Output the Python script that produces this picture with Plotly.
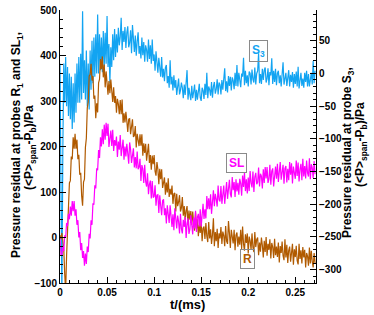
import numpy as np
import plotly.graph_objects as go

# sampling step of the signals (ms)
dt = 0.001

# Pressure residual at probe R1 (left axis, Pa), one value per 0.001 ms
R_vals = [5, -4, 10, -18, -25, -80, -118, -40, 12, 72,
          120, 125, 178, 172, 220, 195, 228, 195, 215, 172,
          182, 138, 142, 92, 70, 122, 128, 198, 218, 285,
          298, 355, 358, 382, 345, 355, 305, 312, 262, 295,
          275, 340, 348, 392, 370, 398, 352, 380, 330, 365,
          346, 314, 344, 317, 347, 314, 298, 330, 296, 311,
          274, 305, 293, 271, 302, 271, 303, 252, 273, 253,
          276, 256, 232, 260, 261, 227, 246, 260, 221, 224,
          245, 198, 228, 217, 201, 227, 202, 227, 180, 207,
          186, 206, 169, 187, 206, 164, 181, 149, 180, 161,
          181, 146, 136, 166, 150, 117, 151, 128, 150, 109,
          124, 132, 94, 121, 99, 130, 89, 107, 94, 114,
          74, 96, 98, 57, 96, 69, 78, 93, 57, 65,
          89, 48, 69, 38, 59, 69, 27, 59, 39, 58,
          28, 57, 32, 15, 55, 19, 40, 3, 28, 10,
          36, -8, 20, 24, -3, 32, 3, -10, 34, -2,
          18, -14, 6, 42, -19, 12, -8, 19, -23, 9,
          -2, 23, -14, 13, 4, -19, 25, -8, -14, 36,
          10, -23, 17, -6, -13, 17, -28, 5, 11, -20,
          2, -16, 17, -25, 24, -14, -29, 7, -12, 9,
          -35, 2, -7, -27, 9, -22, -32, 12, -21, -4,
          0, -39, -11, -31, 0, -17, -44, -7, -32, 1,
          -40, -14, -27, -4, -46, -12, -21, -45, -3, -39,
          -20, -43, -11, -55, -19, -34, -9, -40, -50, -4,
          -44, -16, -56, -28, -20, -53, -32, -14, -60, -26,
          -43, -18, -51, -59, -14, -47, -28, -57, -21, -44,
          -27, -66, -34, -41, -62, -22, -57, -29, -53, -66,
          -34, -56]

# Pressure residual at probe SL1 (left axis, Pa)
SL_vals = [-2, -38, -40, -20, -30, 5, 0, 32, 25, 52,
           40, 68, 48, 80, 58, 80, 48, 62, 28, 38,
           0, 12, -28, -12, -45, -30, -62, -35, -58, -20,
           -32, 8, -2, 38, 28, 75, 72, 115, 108, 152,
           148, 192, 175, 220, 200, 238, 205, 248, 215, 252,
           223, 250, 199, 225, 235, 201, 237, 190, 214, 202,
           222, 177, 211, 193, 225, 179, 197, 215, 171, 200,
           178, 206, 185, 162, 209, 194, 164, 186, 196, 154,
           177, 152, 189, 150, 155, 173, 124, 159, 151, 120,
           160, 123, 112, 141, 95, 117, 125, 86, 124, 88,
           90, 115, 70, 93, 94, 54, 93, 70, 49, 81,
           84, 49, 64, 31, 71, 51, 32, 71, 36, 23,
           51, 16, 64, 30, 20, 48, 35, 9, 52, 19,
           9, 39, 23, 45, -1, 31, 42, 8, 18, 49,
           29, 7, 44, 20, 59, 12, 45, 52, 24, 62,
           24, 60, 74, 41, 62, 42, 91, 62, 86, 62,
           95, 52, 86, 104, 69, 96, 84, 68, 114, 83,
           79, 113, 74, 101, 114, 74, 110, 122, 85, 105,
           127, 96, 88, 133, 104, 122, 89, 128, 101, 120,
           94, 129, 119, 92, 136, 111, 143, 102, 128, 97,
           132, 102, 146, 120, 110, 145, 100, 133, 142, 117,
           121, 154, 112, 140, 135, 108, 150, 120, 155, 130,
           155, 120, 128, 160, 116, 146, 152, 112, 142, 156,
           129, 162, 122, 147, 166, 127, 139, 160, 118, 152,
           157, 121, 151, 126, 166, 138, 163, 119, 156, 142,
           129, 169, 135, 165, 123, 150, 162, 126, 173, 134,
           157, 130, 169, 142, 134, 174, 128, 161, 153, 131,
           168, 139]

# Pressure residual at probe S3 (right axis, Pa)
S3_vals = [15, -200, -345, -120, 15, -45, 25, -50, 10, -65,
           0, -70, -5, -85, -15, -75, 0, -60, 15, -45,
           25, -45, 30, -40, 95, -30, 20, -40, 35, -50,
           15, -55, 35, -25, 50, -15, 55, -5, 60, 0,
           90, 0, 60, 5, 55, 2, 65, 10, 62, 15,
           88, 10, 45, -15, 40, 10, 60, 20, 68, 25,
           60, 32, 70, 43, 56, 85, 36, 65, 48, 71,
           39, 62, 72, 40, 47, 66, 31, 74, 50, 33,
           58, 27, 49, 63, 30, 42, 23, 55, 28, 48,
           18, 43, 36, 18, 52, 22, 43, 15, 52, 19,
           29, 4, 34, 8, 1, 24, 11, -5, 25, -6,
           7, -12, 9, 13, -15, -4, -22, 20, -17, -5,
           -26, -3, -22, -10, -33, -15, -8, -32, -26, -14,
           -22, -38, -17, -33, -16, 5, -40, -22, -32, -41,
           -19, -38, -28, -17, -42, -25, -40, -21, -16, -37,
           -42, -22, -26, -39, -16, -33, 1, -38, -20, -25,
           -34, -13, -37, -20, -13, -31, -24, -9, -32, -14,
           -17, -32, -10, -25, -7, 8, -27, -12, -29, -4,
           -19, -5, -26, -6, -11, -24, 1, -19, 13, -20,
           1, -15, -21, 0, -5, 24, -18, 4, -15, -3,
           -20, 3, 0, -17, 6, -9, -14, 9, -17, 0,
           4, 31, -15, -1, -16, 7, -10, 5, 9, -14,
           -8, 8, -18, 2, -3, 23, -16, 4, -13, 7,
           -18, 0, 4, -15, -3, -20, 5, 17, -17, -2,
           1, -19, -5, 5, -20, -2, -13, 2, -22, -1,
           -16, 3, -20, 10, -23, -5, 1, -19, -8, -22,
           1, -13, 4, -20, -1, -20, -5, 1, -17, 19,
           -15, 4]

x_tickvals = [0, 0.05, 0.1, 0.15, 0.2, 0.25]
x_ticktext = ["0", "0.05", "0.1", "0.15", "0.2", "0.25"]
left_tickvals = [-100, 0, 100, 200, 300, 400, 500]
right_tickvals = [-300, -250, -200, -150, -100, -50, 0, 50]

t = np.round(np.arange(len(R_vals)) * dt, 4)

C_S3 = "#12A4F2"
C_SL = "#FF00FF"
C_R = "#B05A00"

fig = go.Figure()
fig.add_trace(go.Scatter(x=t, y=S3_vals, mode="lines", line=dict(color=C_S3, width=1.2),
                         yaxis="y", name="S3"))
fig.add_trace(go.Scatter(x=t, y=R_vals, mode="lines", line=dict(color=C_R, width=1.2),
                         yaxis="y2", name="R"))
fig.add_trace(go.Scatter(x=t, y=SL_vals, mode="lines", line=dict(color=C_SL, width=1.2),
                         yaxis="y2", name="SL"))

tickfont = dict(family="Liberation Sans, Arial", size=10, color="black", weight="bold")
titlefont = dict(family="Liberation Sans, Arial", size=12, color="black", weight="bold")

fig.update_layout(
    width=374, height=315,
    margin=dict(l=60, r=58, t=10, b=32),
    plot_bgcolor="white", paper_bgcolor="white",
    showlegend=False,
    xaxis=dict(range=[0, 0.272], tickvals=x_tickvals, ticktext=x_ticktext,
               ticks="inside", ticklen=6, tickwidth=1, tickcolor="black",
               minor=dict(ticks="inside", ticklen=3, dtick=0.01, tick0=0, tickcolor="black"),
               showline=True, linecolor="black", linewidth=1, automargin=False,
               showgrid=False, zeroline=False, tickfont=tickfont),
    yaxis=dict(side="right", range=[-320.5, 97], tickvals=right_tickvals,
               ticks="inside", ticklen=6, tickwidth=1, tickcolor="black",
               minor=dict(ticks="inside", ticklen=3, dtick=10, tick0=0, tickcolor="black"),
               showline=True, linecolor="black", linewidth=1, automargin=False,
               showgrid=False, zeroline=False, tickfont=tickfont),
    yaxis2=dict(side="left", overlaying="y", range=[-100, 500], tickvals=left_tickvals,
                ticks="inside", ticklen=6, tickwidth=1, tickcolor="black",
                minor=dict(ticks="inside", ticklen=3, dtick=20, tick0=0, tickcolor="black"),
                showline=True, linecolor="black", linewidth=1, automargin=False,
                showgrid=False, zeroline=False, tickfont=tickfont),
)

def ann(text, x, y, **kw):
    d = dict(text=text, x=x, y=y, showarrow=False, font=titlefont,
             xanchor="center", yanchor="middle")
    d.update(kw)
    fig.add_annotation(**d)

# axis titles
ann("Pressure residual at probes R<sub>1</sub> and SL<sub>1</sub>,", (17 - 60) / 256, (283 - 145) / 273,
    xref="paper", yref="paper", textangle=-90)
ann("(&lt;P&gt;<sub>span</sub>-P<sub>b</sub>)/Pa", (30 - 60) / 256, (283 - 148) / 273,
    xref="paper", yref="paper", textangle=-90)
ann("Pressure residual at probe S<sub>3</sub>,", (348 - 60) / 256, (283 - 153) / 273,
    xref="paper", yref="paper", textangle=-90)
ann("(&lt;P&gt;<sub>span</sub>-P<sub>b</sub>)/Pa", (361 - 60) / 256, (283 - 145) / 273,
    xref="paper", yref="paper", textangle=-90)
ann("t/(ms)", (187 - 60) / 256, (283 - 304) / 273, xref="paper", yref="paper",
    font=dict(family="Liberation Sans, Arial", size=13, color="black", weight="bold"))

# series labels
lab = dict(family="Liberation Sans, Arial", size=12, weight="bold")
ann("S<sub>3</sub>", 0.2106, 34, xref="x", yref="y", font=dict(lab, color=C_S3),
    bordercolor="#8a8a8a", borderwidth=1, borderpad=2)
ann("SL", 0.187, 163, xref="x", yref="y2", font=dict(lab, color=C_SL),
    bordercolor="#8a8a8a", borderwidth=1, borderpad=2)
ann("R", 0.1995, -48, xref="x", yref="y2", font=dict(lab, color=C_R),
    bordercolor="#8a8a8a", borderwidth=1, borderpad=2)

# remove the default 8px page margin so the 374x315 figure fills the window
fig.write_html("out.html", config={"displayModeBar": False},
               post_script="document.body.style.margin='0px';")
